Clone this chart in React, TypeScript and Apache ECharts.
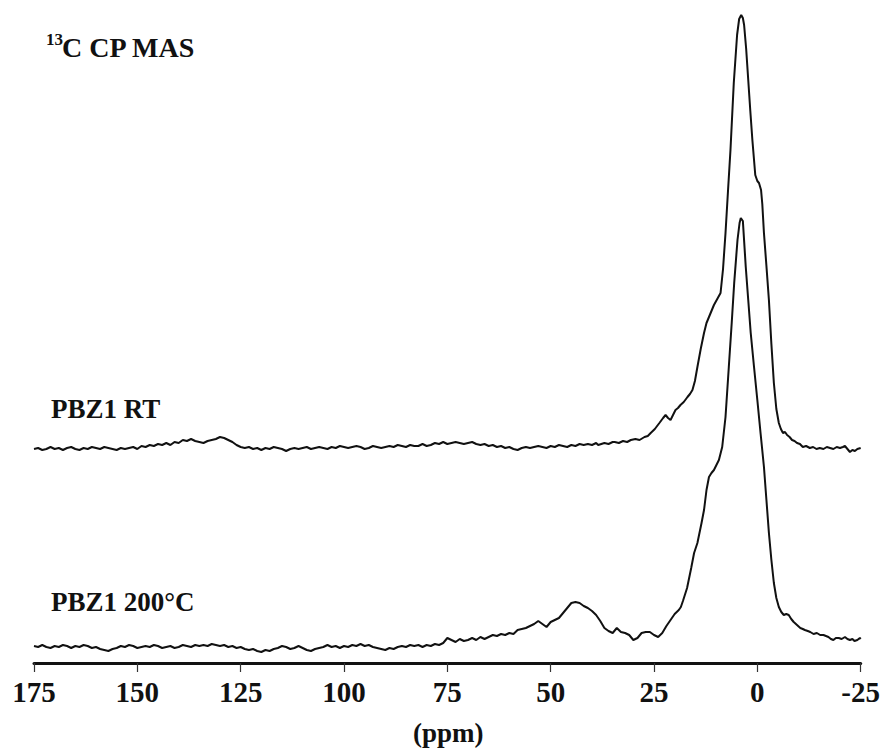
import React, { useEffect, useRef } from "react";
import * as echarts from "echarts";

// x axis (chemical shift, ppm) ticks
const xTicks = [175, 150, 125, 100, 75, 50, 25, 0, -25];

// PBZ1 RT spectrum: [ppm, intensity above its own baseline]
const spectrumRT: [number, number][] = [
  [175, 0], [174, 1], [173, -1], [172, 0], [171, 2], [170, 0], [169, 1], [168, -1], [167, 1], [166, 2],
  [165, 0], [164, -1], [163, 1], [162, 0], [161, 2], [160, 1], [159, 0], [158, 2], [157, 1], [156, 0],
  [155, -1], [154, 1], [153, 0], [152, 1], [151, 2], [150, 0], [149, 3], [148, 2], [147, 4], [146, 3],
  [145, 5], [144, 4], [143, 6], [142, 4], [141, 7], [140, 6], [139, 9], [138, 8], [137, 10], [136, 8],
  [135, 7], [134, 6], [133, 8], [132, 9], [131, 10], [130, 12], [129, 11], [128, 9], [127, 7], [126, 4],
  [125, 2], [124, 1], [123, 2], [122, 0], [121, 1], [120, -1], [119, 1], [118, 0], [117, 2], [116, 1],
  [115, 0], [114, -2], [113, 0], [112, 1], [111, 0], [110, 1], [109, 2], [108, 0], [107, 1], [106, 2],
  [105, 1], [104, 0], [103, 2], [102, 1], [101, 3], [100, 2], [99, 1], [98, 2], [97, 3], [96, 2],
  [95, 0], [94, 1], [93, 3], [92, 2], [91, 1], [90, 2], [89, 3], [88, 2], [87, 4], [86, 3],
  [85, 2], [84, 4], [83, 3], [82, 3], [81, 5], [80, 3], [79, 4], [78, 6], [77, 5], [76, 7],
  [75, 5], [74, 6], [73, 7], [72, 6], [71, 5], [70, 6], [69, 7], [68, 5], [67, 4], [66, 5],
  [65, 3], [64, 4], [63, 2], [62, 3], [61, 1], [60, 2], [59, 0], [58, -1], [57, 1], [56, 2],
  [55, 1], [54, 2], [53, 3], [52, 2], [51, 1], [50, 3], [49, 2], [48, 4], [47, 3], [46, 2],
  [45, 4], [44, 3], [43, 5], [42, 4], [41, 5], [40, 4], [39, 6], [38.5, 4], [37, 6], [36, 5],
  [35, 7], [34.5, 7], [33.5, 6], [32.5, 8], [31.5, 7], [30.6, 9], [29.5, 10], [28.5, 9], [27.3, 12], [26.5, 13],
  [25.8, 16], [24.8, 20], [23.7, 26], [22.8, 31], [22.2, 34], [21.6, 31], [21, 29], [20.4, 34], [19.8, 39], [19.2, 41],
  [18.6, 44], [17.8, 47], [16.9, 52], [16.3, 55], [15.7, 59], [15.1, 68], [14.5, 82], [13.7, 100], [12.9, 116], [12.3, 126],
  [11.7, 132], [11.1, 138], [10.5, 144], [9.7, 150], [8.9, 156], [8.3, 180], [7.7, 216], [7.1, 258], [6.5, 299], [5.7, 366],
  [4.9, 414], [4.4, 430], [3.9, 434], [3.5, 431], [3.2, 424], [2.7, 400], [2.2, 369], [1.7, 338], [1.2, 309], [0.5, 274],
  [0, 268], [-0.4, 266], [-0.9, 259], [-1.2, 245], [-1.6, 216], [-2.2, 183], [-2.8, 149], [-3.4, 105], [-4.0, 66], [-4.6, 40],
  [-5.2, 26], [-5.7, 20], [-6.2, 16], [-6.7, 17], [-7.2, 14], [-7.8, 12], [-8.4, 9], [-9.0, 8], [-9.6, 6], [-10.3, 5],
  [-11.0, 2], [-11.8, 3], [-12.7, 1], [-13.5, 2], [-14.3, 0], [-15.1, 1], [-16, 0], [-16.8, 2], [-17.6, 1], [-18.4, 0],
  [-19.2, 2], [-20, 1], [-20.7, 2], [-21.2, 3], [-21.8, 0], [-22.4, -3], [-23, -1], [-23.6, -2], [-24.2, 0], [-25, 1],
];

// PBZ1 200°C spectrum: [ppm, intensity above its own baseline]
const spectrum200C: [number, number][] = [
  [175, 2], [174, 1], [173, 3], [172, 1], [171, 0], [170, 2], [169, 1], [168, 3], [167, 2], [166, 0],
  [165, 2], [164, 1], [163, 3], [162, 2], [161, 0], [160, 1], [159, -1], [158, -2], [157, -3], [156, -1],
  [155, 0], [154, 2], [153, 1], [152, 3], [151, 2], [150, 0], [149, 1], [148, 2], [147, 1], [146, 3],
  [145, 2], [144, 0], [143, 1], [142, 2], [141, 0], [140, 1], [139, 3], [138, 2], [137, 1], [136, 3],
  [135, 2], [134, 3], [133, 2], [132, 4], [131, 3], [130, 2], [129, 3], [128, 1], [127, 2], [126, 0],
  [125, 1], [124, -1], [123, -2], [122, -1], [121, -3], [120, -4], [119, -2], [118, -3], [117, -1], [116, 0],
  [115, 2], [114, 1], [113, -1], [112, 0], [111, 2], [110, 0], [109, -2], [108, -3], [107, -1], [106, 0],
  [105, 1], [104, 3], [103, 1], [102, 2], [101, 0], [100, 2], [99, 1], [98, 3], [97, 2], [96, 4],
  [95, 2], [94, 3], [93, 1], [92, 0], [91, -1], [90, -2], [89, 0], [88, -1], [87, 1], [86, 2],
  [85, 1], [84, 3], [83, 2], [82, 3], [81, 1], [80, 3], [79, 2], [78, 4], [77, 3], [76, 5],
  [75, 10], [74, 8], [73, 6], [72, 9], [71, 7], [70, 8], [69, 10], [68, 8], [67, 11], [66, 9],
  [65, 11], [64, 13], [63, 12], [62, 14], [61, 13], [60, 15], [59, 14], [58, 18], [57, 19], [56, 20],
  [55, 22], [54, 24], [53, 27], [52, 24], [51, 21], [50, 26], [49, 28], [48, 30], [47, 35], [46, 40],
  [45, 45], [44, 46], [43, 45], [42, 42], [41, 40], [40, 37], [39, 33], [38, 27], [37, 20], [36, 17],
  [35, 15], [34, 20], [33, 16], [32, 15], [31, 13], [30, 8], [29, 10], [28, 15], [27, 16], [26, 16],
  [25, 13], [24, 11], [23, 15], [22, 22], [21, 28], [20, 34], [19, 38], [18.5, 41], [18, 47], [17, 60],
  [16, 80], [15.3, 95], [14.5, 105], [13.5, 125], [12.9, 138], [12.3, 158], [11.7, 171], [11.1, 175], [10.5, 178], [9.9, 183],
  [9.3, 188], [8.5, 201], [7.7, 231], [6.9, 281], [6.2, 325], [5.6, 365], [4.8, 408], [4.3, 425], [4.0, 430], [3.5, 427],
  [2.8, 381], [2.2, 348], [1.6, 315], [0.8, 281], [0, 248], [-0.8, 214], [-1.6, 181], [-2.2, 148], [-2.8, 115], [-3.4, 88],
  [-4, 65], [-4.6, 50], [-5.2, 41], [-5.8, 36], [-6.4, 33], [-7, 34], [-7.6, 33], [-8.2, 29], [-8.8, 26], [-9.6, 23],
  [-10.4, 20], [-11.0, 19], [-11.5, 18], [-12.2, 17], [-12.8, 16], [-13.6, 14], [-14.4, 15], [-15.2, 13], [-16.0, 13], [-16.6, 12],
  [-17.2, 11], [-17.8, 9], [-18.4, 8], [-19, 10], [-19.7, 10], [-20.4, 9], [-21.2, 11], [-21.8, 9], [-22.4, 8], [-23, 9],
  [-23.5, 7], [-24.2, 8], [-24.8, 10], [-25, 9],
];

// vertical stacking offsets of the two traces (intensity units)
const offsetRT = 214;
const offset200C = 15;

const FONT = "'Liberation Serif', 'Times New Roman', serif";

export default function App() {
  const ref = useRef<HTMLDivElement>(null);

  useEffect(() => {
    if (!ref.current) return;
    const chart = echarts.init(ref.current, undefined, { renderer: "svg" });
    const shift = (arr: [number, number][], off: number) => arr.map(([x, y]) => [x, y + off]);

    chart.setOption({
      animation: false,
      backgroundColor: "#ffffff",
      grid: { left: 34, right: 20, top: 13, bottom: 88 },
      xAxis: {
        type: "value",
        min: xTicks[xTicks.length - 1],
        max: xTicks[0],
        interval: 25,
        inverse: true,
        axisLine: { show: true, lineStyle: { color: "#111", width: 3 } },
        axisTick: { show: true, length: 9, lineStyle: { color: "#333", width: 1.2 } },
        axisLabel: {
          margin: 14,
          color: "#111",
          fontFamily: FONT,
          fontWeight: "bold",
          fontSize: 29,
        },
        splitLine: { show: false },
      },
      yAxis: { type: "value", min: 0, max: 650, show: false },
      series: [
        {
          name: "PBZ1 RT",
          type: "line",
          data: shift(spectrumRT, offsetRT),
          showSymbol: false,
          lineStyle: { color: "#111", width: 2 },
          silent: true,
        },
        {
          name: "PBZ1 200°C",
          type: "line",
          data: shift(spectrum200C, offset200C),
          showSymbol: false,
          lineStyle: { color: "#111", width: 2 },
          silent: true,
        },
      ],
      graphic: [
        {
          type: "text",
          left: 46,
          top: 31,
          style: { text: "13", font: `bold 17px ${FONT}`, fill: "#111" },
        },
        {
          type: "text",
          left: 62,
          top: 33,
          style: { text: "C CP MAS", font: `bold 28px ${FONT}`, fill: "#111" },
        },
        {
          type: "text",
          left: 51,
          top: 395,
          style: { text: "PBZ1 RT", font: `bold 27px ${FONT}`, fill: "#111" },
        },
        {
          type: "text",
          left: 51,
          top: 588,
          style: { text: "PBZ1 200°C", font: `bold 27px ${FONT}`, fill: "#111" },
        },
        {
          type: "text",
          left: 413,
          top: 719,
          style: { text: "(ppm)", font: `bold 27px ${FONT}`, fill: "#111" },
        },
      ],
    });

    return () => chart.dispose();
  }, []);

  return (
    <div
      ref={ref}
      style={{ position: "absolute", left: 0, top: 0, width: 883, height: 751 }}
    />
  );
}
